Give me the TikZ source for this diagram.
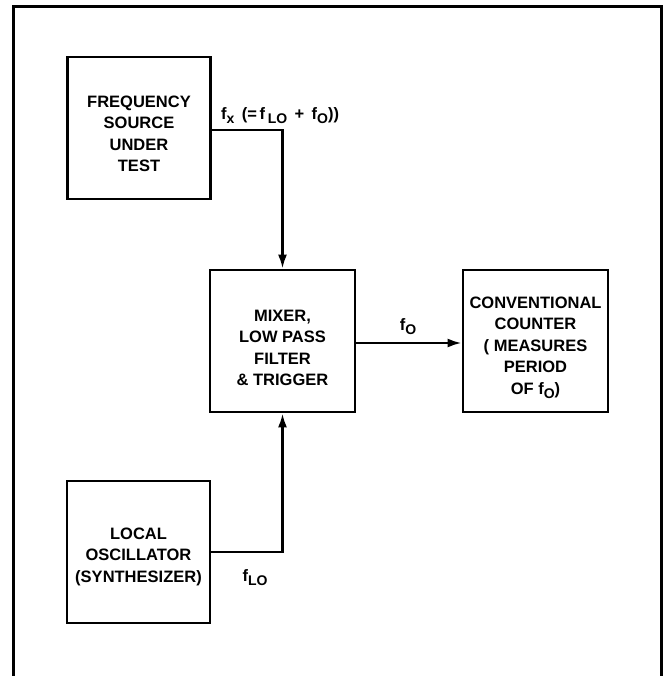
\documentclass[tikz,border=0pt]{standalone}
\usepackage{fontspec}
\setmainfont{Liberation Sans}
\usetikzlibrary{arrows.meta}
\newcommand\lettering{\fontsize{16.5}{21.5}\selectfont\bfseries}
\newcommand\sub[1]{\raisebox{-0.45ex}{\fontsize{14}{14}\selectfont\bfseries #1}}
\newcommand\dn[1]{\rule{0pt}{#1}}
\begin{document}
\begin{tikzpicture}[x=1pt,y=-1pt,
  box/.style={draw,line width=2.8pt,minimum width=143pt,minimum height=142pt,
    inner sep=0pt,align=center,font=\lettering},
  conn/.style={line width=2.4pt},
  arr/.style={conn,-{Latex[length=14pt,width=9pt]}},
  lbl/.style={font=\lettering,inner sep=0pt},
  frame/.style={line width=3pt}]
\useasboundingbox (0,0) rectangle (666,676);
\draw[frame] (13,680) -- (13,7) -- (661,7) -- (661,680);
\node[box] (src) at (139,128) {\dn{23pt}FREQUENCY\\SOURCE\\UNDER\\TEST};
\node[box,minimum width=145pt] (mix) at (282.5,341) {\dn{25pt}MIXER,\\LOW PASS\\FILTER\\\& TRIGGER};
\node[box,minimum width=145pt] (cnt) at (535.5,341) {\dn{25pt}CONVENTIONAL\\COUNTER\\( MEASURES\\PERIOD\\OF f\sub{O})};
\node[box] (lo) at (138.5,552) {\dn{21pt}LOCAL\\OSCILLATOR\\(SYNTHESIZER)};
\draw[arr] ([yshift=-2pt]src.east) -| (mix.north);
\draw[arr] (lo.east) -| (mix.south);
\draw[arr] ([yshift=-2pt]mix.east) -- ([yshift=-2pt]cnt.west);
\node[lbl,anchor=west] (lx) at (221,116) {f\sub{x}\, (=\,f\,\sub{LO}\, +\, f\sub{O}))};
\node[lbl] (lo0) at (408,327) {f\sub{O}};
\node[lbl] (llo) at (255,578) {f\sub{LO}};
\end{tikzpicture}
\end{document}
